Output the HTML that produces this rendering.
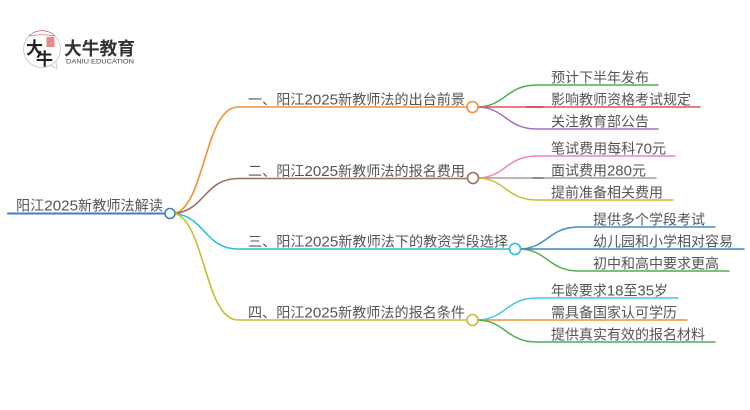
<!DOCTYPE html>
<html>
<head>
<meta charset="utf-8">
<style>
html,body{margin:0;padding:0;background:#fff;width:750px;height:410px;overflow:hidden}
svg{display:block;filter:blur(.3px)}
text{font-family:"Liberation Sans","Noto Sans CJK SC",sans-serif;font-size:14px;fill:#555}
tspan{font-size:15px}
path,line{fill:none;stroke-linecap:round}
</style>
</head>
<body>
<svg width="750" height="410" viewBox="0 0 750 410" xmlns="http://www.w3.org/2000/svg">
<!-- logo -->
<circle cx="42" cy="49" r="18.5" fill="#fff" stroke="#c4c4c4" stroke-width="0.8"/>
<path d="M29 36 A18.5 18.5 0 0 1 55 36 Q42 33.500 29 36Z" fill="#e0262a" stroke="#e0262a" stroke-width="0.5"/>
<path d="M50 65 L57 69 L56 62" fill="#fff" stroke="#c4c4c4" stroke-width="0.8"/>
<rect x="46.500" y="37" width="8" height="10" fill="#e58a84"/>
<text x="26" y="54" style="font-size:17px;fill:#222;font-weight:700;font-family:'Noto Sans CJK SC',sans-serif">大</text>
<text x="36" y="65" style="font-size:17px;fill:#222;font-weight:700;font-family:'Noto Sans CJK SC',sans-serif">牛</text>
<text x="64" y="55" textLength="71" lengthAdjust="spacingAndGlyphs" style="font-size:18px;font-weight:700;fill:#333">大牛教育</text>
<text x="66" y="63.500" textLength="68" lengthAdjust="spacingAndGlyphs" style="font-size:6.500px;fill:#444">DANIU EDUCATION</text>

<!-- root -->
<line x1="8" y1="213.500" x2="165" y2="213.500" stroke="#3b82c4" stroke-width="2"/>
<text x="16" y="210.500" textLength="147" lengthAdjust="spacingAndGlyphs">阳江<tspan>2025</tspan>新教师法解读</text>

<!-- main branches -->
<path d="M175 213.500 C205 205 205 107 238 107 L467 107" stroke="#f78f2e" stroke-width="1.6"/>
<path d="M175 213.500 C205 210 205 178.500 238 178.500 L467 178.500" stroke="#9c6f65" stroke-width="1.6"/>
<path d="M175 213.500 C205 217 205 249 238 249 L510 249" stroke="#2fbfd6" stroke-width="1.6"/>
<path d="M175 213.500 C205 222 205 320 238 320 L466 320" stroke="#c5c02c" stroke-width="1.6"/>

<text x="248" y="104.500" textLength="217" lengthAdjust="spacingAndGlyphs">一、阳江<tspan>2025</tspan>新教师法的出台前景</text>
<text x="248" y="176" textLength="217" lengthAdjust="spacingAndGlyphs">二、阳江<tspan>2025</tspan>新教师法的报名费用</text>
<text x="248" y="246.500" textLength="260" lengthAdjust="spacingAndGlyphs">三、阳江<tspan>2025</tspan>新教师法下的教资学段选择</text>
<text x="248" y="317.500" textLength="217" lengthAdjust="spacingAndGlyphs">四、阳江<tspan>2025</tspan>新教师法的报名条件</text>

<!-- leaf connectors group 1 -->
<path d="M478 107 C506 106 506 85 537 85 L658 85" stroke="#4caf50" stroke-width="1.500"/>
<path d="M478 107 L700 107" stroke="#e0525a" stroke-width="1.500"/>
<path d="M526 107 L543 107" stroke="#c8404a" stroke-width="1.500"/>
<path d="M478 107 C506 108 506 129 537 129 L658 129" stroke="#a070c8" stroke-width="1.500"/>
<!-- group 2 -->
<path d="M478 178 C506 177 506 156 537 156 L675 156" stroke="#ee82c8" stroke-width="1.500"/>
<path d="M478 178 L656 178" stroke="#a0a0a0" stroke-width="1.500"/>
<path d="M533 178 L543 178" stroke="#777" stroke-width="1.500"/>
<path d="M478 178 C506 179 506 200 537 200 L673 200" stroke="#c5c02c" stroke-width="1.500"/>
<!-- group 3 -->
<path d="M520 249 C548 248 548 227 579 227 L715 227" stroke="#3f8fc8" stroke-width="1.500"/>
<path d="M520 249 L744 249" stroke="#3b82c4" stroke-width="1.500"/>
<path d="M520 249 C548 250 548 271 579 271 L729 271" stroke="#4caf50" stroke-width="1.500"/>
<!-- group 4 -->
<path d="M478 320 C506 319 506 298 537 298 L678 298" stroke="#45c8dc" stroke-width="1.500"/>
<path d="M478 320 L687 320" stroke="#f78f2e" stroke-width="1.500"/>
<path d="M478 320 C506 321 506 342 537 342 L715 342" stroke="#4caf50" stroke-width="1.500"/>

<!-- leaf text -->
<text x="551" y="82.500" textLength="98" lengthAdjust="spacingAndGlyphs">预计下半年发布</text>
<text x="551" y="104.500" textLength="140" lengthAdjust="spacingAndGlyphs">影响教师资格考试规定</text>
<text x="551" y="126.500" textLength="98" lengthAdjust="spacingAndGlyphs">关注教育部公告</text>
<text x="551" y="153.500" textLength="115" lengthAdjust="spacingAndGlyphs">笔试费用每科<tspan>70</tspan>元</text>
<text x="551" y="175.500" textLength="95" lengthAdjust="spacingAndGlyphs">面试费用<tspan>280</tspan>元</text>
<text x="551" y="197.500" textLength="112" lengthAdjust="spacingAndGlyphs">提前准备相关费用</text>
<text x="593" y="224.500" textLength="112" lengthAdjust="spacingAndGlyphs">提供多个学段考试</text>
<text x="593" y="246.500" textLength="140" lengthAdjust="spacingAndGlyphs">幼儿园和小学相对容易</text>
<text x="593" y="268.500" textLength="126" lengthAdjust="spacingAndGlyphs">初中和高中要求更高</text>
<text x="551" y="295.500" textLength="117" lengthAdjust="spacingAndGlyphs">年龄要求<tspan>18</tspan>至<tspan>35</tspan>岁</text>
<text x="551" y="317.500" textLength="126" lengthAdjust="spacingAndGlyphs">需具备国家认可学历</text>
<text x="551" y="339.500" textLength="154" lengthAdjust="spacingAndGlyphs">提供真实有效的报名材料</text>

<!-- nodes -->
<circle cx="170" cy="213.500" r="5" fill="#fff" stroke="#3b82c4" stroke-width="1.600"/>
<circle cx="472.500" cy="107" r="5.500" fill="#fff" stroke="#f78f2e" stroke-width="1.600"/>
<circle cx="473" cy="178" r="5.500" fill="#fff" stroke="#9c6f65" stroke-width="1.600"/>
<circle cx="515" cy="249" r="5.500" fill="#fff" stroke="#2fbfd6" stroke-width="1.600"/>
<circle cx="472.500" cy="320" r="5.500" fill="#fff" stroke="#c5c02c" stroke-width="1.600"/>
</svg>
</body>
</html>
